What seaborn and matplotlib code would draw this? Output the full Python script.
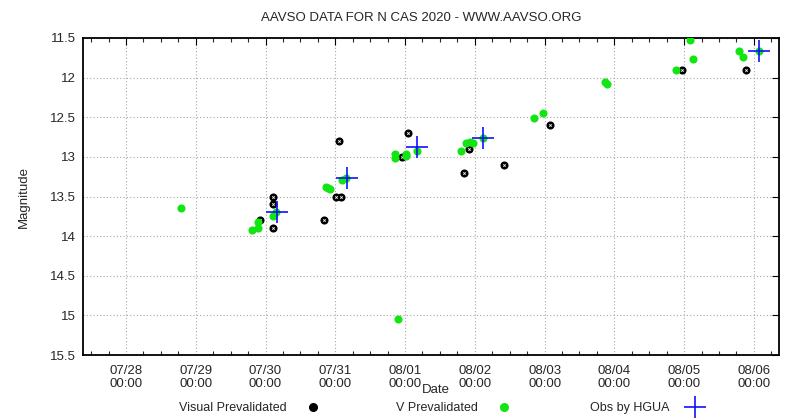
import matplotlib
matplotlib.use('Agg')
import matplotlib.pyplot as plt
import matplotlib.dates as mdates
from matplotlib.ticker import FixedLocator, FormatStrFormatter
import seaborn as sns
import pandas as pd

# Visual prevalidated observations
visual_times = ['2020-07-30 02:28', '2020-07-30 02:28', '2020-07-29 22:06', '2020-07-30 02:28',
                '2020-07-30 20:08', '2020-07-31 00:05', '2020-07-31 01:55', '2020-07-31 01:18',
                '2020-07-31 22:48', '2020-08-01 01:00', '2020-08-01 20:24', '2020-08-01 22:05',
                '2020-08-02 10:05', '2020-08-03 01:55', '2020-08-04 23:25', '2020-08-05 21:20']
visual_mags = [13.5, 13.6, 13.8, 13.9,
               13.8, 13.5, 13.5, 12.8,
               13.0, 12.7, 13.2, 12.9,
               13.1, 12.6, 11.9, 11.9]

# V prevalidated observations
v_times = ['2020-07-28 19:02', '2020-07-29 19:12', '2020-07-29 21:32', '2020-07-29 21:32',
           '2020-07-30 02:38', '2020-07-30 03:36', '2020-07-30 20:53', '2020-07-30 21:36',
           '2020-07-30 22:19', '2020-07-31 02:10', '2020-07-31 03:50', '2020-07-31 20:24',
           '2020-07-31 20:24', '2020-07-31 21:36', '2020-08-01 00:14', '2020-08-01 00:29',
           '2020-08-01 04:05', '2020-08-01 19:12', '2020-08-01 21:07', '2020-08-01 22:19',
           '2020-08-01 23:31', '2020-08-02 02:53', '2020-08-02 20:24', '2020-08-02 23:17',
           '2020-08-03 20:53', '2020-08-03 21:22', '2020-08-04 21:07', '2020-08-05 01:55',
           '2020-08-05 03:07', '2020-08-05 18:58', '2020-08-05 20:24', '2020-08-06 01:55']
v_mags = [13.64, 13.92, 13.90, 13.82,
          13.74, 13.70, 13.38, 13.39,
          13.40, 13.29, 13.27, 12.96,
          13.01, 15.05, 12.97, 12.99,
          12.92, 12.92, 12.83, 12.81,
          12.82, 12.76, 12.51, 12.45,
          12.05, 12.08, 11.91, 11.53,
          11.76, 11.67, 11.74, 11.67]

# Observer HGUA
hgua_times = ['2020-07-30 03:50', '2020-07-31 03:56', '2020-08-01 04:05',
              '2020-08-02 02:53', '2020-08-06 01:55']
hgua_mags = [13.70, 13.27, 12.88, 12.76, 11.67]

y_ticks = [11.5, 12, 12.5, 13, 13.5, 14, 14.5, 15, 15.5]
x_range = ['2020-07-27 09:13', '2020-08-06 08:38']

title = 'AAVSO DATA FOR N CAS 2020 - WWW.AAVSO.ORG'

sns.set_style('white')
plt.rcParams['font.family'] = ['Liberation Sans', 'DejaVu Sans']
plt.rcParams['font.size'] = 9.5
plt.rcParams['xtick.direction'] = 'in'
plt.rcParams['ytick.direction'] = 'in'

visual = pd.DataFrame({'t': pd.to_datetime(visual_times), 'mag': visual_mags})
vband = pd.DataFrame({'t': pd.to_datetime(v_times), 'mag': v_mags})
hgua = pd.DataFrame({'t': pd.to_datetime(hgua_times), 'mag': hgua_mags})

fig = plt.figure(figsize=(7.99, 4.20), dpi=100)
ax = fig.add_axes([83 / 799, 65 / 420, 696 / 799, 317 / 420])

sns.scatterplot(data=visual, x='t', y='mag', ax=ax, color='black', s=34,
                linewidth=0, marker='o', zorder=3)
sns.scatterplot(data=visual, x='t', y='mag', ax=ax, color='white', s=3,
                linewidth=0.6, marker='x', zorder=4)
sns.scatterplot(data=vband, x='t', y='mag', ax=ax, color='#12e612', s=34,
                linewidth=0, marker='o', zorder=5)
sns.scatterplot(data=hgua, x='t', y='mag', ax=ax, color='#1010ff', s=260,
                linewidth=1.2, marker='+', zorder=6)

ax.set_xlim(pd.to_datetime(x_range))
ax.set_ylim(15.5, 11.5)
ax.yaxis.set_major_locator(FixedLocator(y_ticks))
ax.yaxis.set_major_formatter(FormatStrFormatter('%g'))
ax.xaxis.set_major_locator(mdates.DayLocator())
ax.xaxis.set_minor_locator(mdates.HourLocator(byhour=[6, 12, 18]))
ax.xaxis.set_major_formatter(mdates.DateFormatter('%m/%d\n%H:%M'))

ax.tick_params(which='major', length=5, width=0.8, color='black',
               top=True, right=True, pad=5, labelsize=9.5)
ax.tick_params(axis='x', which='major', pad=7)
ax.tick_params(axis='x', which='minor', length=3, width=0.8, top=True, bottom=True)
ax.grid(True, which='major', color='#a8a8a8', linestyle=(0, (1, 2)), linewidth=0.8)
for spine in ax.spines.values():
    spine.set_color('black')
    spine.set_linewidth(1.3)

# the date label sits just right of the 08/01 tick label, as in the original
ax.set_xlabel('Date')
ax.xaxis.set_label_coords(0.507, -0.09)
ax.set_ylabel('Magnitude')
ax.yaxis.set_label_coords(-0.077, 0.5)
fig.text(421 / 799, 1 - 18 / 420, title, ha='center', va='center', fontsize=9.5)

fig.canvas.draw()
for lab in ax.get_xticklabels():
    lab.set_linespacing(1.12)

# gnuplot-style key: text followed by its marker
vis_handle = plt.Line2D([], [], linestyle='none', marker='o', color='black', markersize=5.5)
v_handle = plt.Line2D([], [], linestyle='none', marker='o', color='#12e612', markersize=5.5)
h_handle = plt.Line2D([], [], linestyle='none', marker='+', color='#1010ff',
                      markersize=16, markeredgewidth=1.2)
for handle, label, xr in [(vis_handle, 'Visual Prevalidated', 332),
                          (v_handle, 'V Prevalidated', 523),
                          (h_handle, 'Obs by HGUA', 714)]:
    fig.legend([handle], [label], loc='center right', bbox_to_anchor=(xr / 799, 12 / 420),
               markerfirst=False, frameon=False, handlelength=1.6, handletextpad=1.3,
               fontsize=9, borderpad=0.2)

plt.savefig('out.png', dpi=100)
plt.close()
